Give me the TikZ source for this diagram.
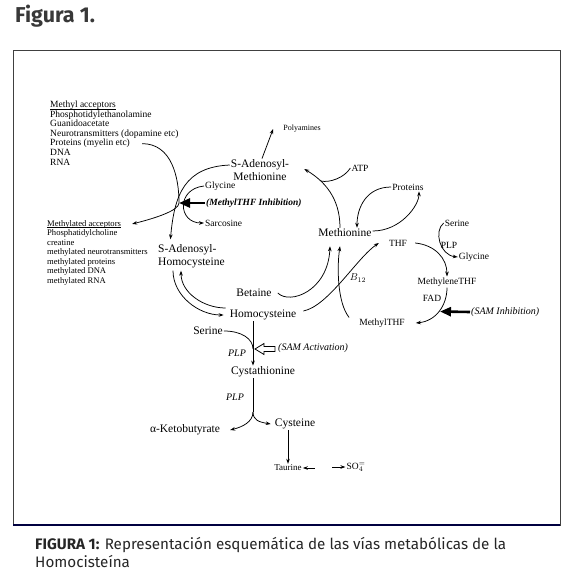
\documentclass[tikz,border=0pt]{standalone}
\usepackage{fontspec}
\setmainfont{Liberation Serif}
\newfontfamily\capfont{Fira Sans}
\usetikzlibrary{arrows.meta,calc}

\tikzset{
  metab/.style={font=\fontsize{11.5}{12.5}\selectfont, inner sep=1pt},
  lbl/.style={font=\fontsize{9.5}{10.5}\selectfont, inner sep=1pt},
  itlbl/.style={font=\fontsize{10}{11}\selectfont\itshape, inner sep=1pt},
  acc/.style={font=\fontsize{9.5}{10}\selectfont, anchor=base west, inner sep=0pt},
  accd/.style={font=\fontsize{8.6}{9.5}\selectfont, anchor=base west, inner sep=0pt},
  conn/.style={line width=0.75pt, ->},
  heavy/.style={line width=2.6pt, -{Triangle[length=11pt,width=9pt]}},
}

\begin{document}
\begin{tikzpicture}[x=1pt, y=-1pt, >={Stealth[length=5pt,width=3.6pt]}]
\useasboundingbox (0,0) rectangle (570,575);
% heading, frame and caption
\node[font=\capfont\bfseries\fontsize{21.5}{23}\selectfont, text=black!78, anchor=west, inner sep=0pt] (fig) at (15,16) {Figura 1.};
\draw[line width=0.9pt, black!75] (13,50) rectangle (560,525);
\draw[line width=1.8pt, blue!25!black] (13,525) -- (560,525);
\node[font=\capfont\fontsize{15.2}{18.5}\selectfont, text=black!85, anchor=north west, align=left, inner sep=0pt] (cap) at (35,537)
  {\textbf{FIGURA 1:} Representación esquemática de las vías metabólicas de la\\Homocisteína};

% acceptor lists
\node[acc] (ma0) at (50,107.5) {Methyl acceptors};
\draw[line width=0.5pt] ([yshift=-1.3pt]ma0.base west) -- ([yshift=-1.3pt]ma0.base east);
\foreach \txt [count=\i] in {Phosphotidylethanolamine, Guanidoacetate, Neurotransmitters (dopamine etc), Proteins (myelin etc), DNA, RNA}
  \node[acc] (ma\i) at (50,107.5+9.6*\i) {\txt};
\node[accd] (md0) at (47,226) {Methylated acceptors};
\draw[line width=0.5pt] ([yshift=-1.2pt]md0.base west) -- ([yshift=-1.2pt]md0.base east);
\foreach \txt [count=\i] in {Phosphatidylcholine, creatine, methylated neurotransmitters, methylated proteins, methylated DNA, methylated RNA}
  \node[accd] (md\i) at (47,226+9.5*\i) {\txt};

% metabolites
\node[metab, align=center] (sam) at (260,170) {S-Adenosyl-\\Methionine};
\node[metab, align=left, anchor=west] (sah) at (157,256) {S-Adenosyl-\\Homocysteine};
\node[metab] (met) at (345,233) {Methionine};
\node[metab] (bet) at (254,293) {Betaine};
\node[metab] (hcy) at (263,315) {Homocysteine};
\node[metab] (ser) at (208,331) {Serine};
\node[metab] (cth) at (263,372) {Cystathionine};
\node[metab] (akb) at (185,430) {α-Ketobutyrate};
\node[metab] (cys) at (295,424) {Cysteine};

% small labels
\node[lbl, font=\fontsize{8}{9}\selectfont] (poly) at (302,129) {Polyamines};
\node[lbl] (atp) at (360,168) {ATP};
\node[lbl, anchor=west] (gly) at (204,186) {Glycine};
\node[font=\fontsize{9.5}{10}\selectfont\bfseries\itshape, anchor=west, inner sep=1pt] (minh) at (205,203) {(MethylTHF Inhibition)};
\node[lbl, anchor=west] (sarc) at (204,223) {Sarcosine};
\node[lbl] (prot) at (408,187) {Proteins};
\node[lbl] (thf) at (398,243) {THF};
\node[lbl] (serb) at (457,223) {Serine};
\node[lbl] (plpa) at (449,245) {PLP};
\node[lbl] (glyb) at (474,257) {Glycine};
\node[lbl] (mthf) at (447,282) {MethyleneTHF};
\node[lbl] (fad) at (432,298) {FAD};
\node[itlbl, anchor=west] (sinh) at (470,312) {(SAM Inhibition)};
\node[lbl] (methf) at (382,323) {MethylTHF};
\node[itlbl] (b12) at (358,278) {$B_{12}$};
\node[itlbl] (plpb) at (237,353) {PLP};
\node[itlbl, anchor=west] (sact) at (277,348) {(SAM Activation)};
\node[itlbl] (plpc) at (235,397) {PLP};
\node[lbl, font=\fontsize{9}{10}\selectfont] (tau) at (288,468) {Taurine};
\node[lbl] (so4) at (356,467) {SO$_4^{=}$};

% junctions
\coordinate (jx) at (179,203);
\coordinate (atpj) at (321,181);
\coordinate (sj) at (440,311.5);
\coordinate (pj) at (253,349);
\coordinate (sp) at (253,412);

% methyl transfer
\draw[conn] ([yshift=5pt]sam.west) .. controls +(-45,2) and +(4,-45) .. ([xshift=-21pt,yshift=4pt]sah.north);
\draw[conn] ([xshift=12pt]ma4.east) .. controls +(30,0) and +(0,-25) .. (jx)
  .. controls +(0,8) and +(20,-5) .. ([xshift=11pt]md0.east);
\draw[conn] (gly.west) .. controls +(-28,3) and +(-26,0) .. (sarc.west);
\draw[heavy] (minh.west) -- (jx);
\draw[conn] ([xshift=2pt]sam.north) -- ([xshift=-9pt]poly.west);

% methionine cycle
\draw[conn] ([xshift=-5pt]met.north) .. controls +(0,-30) and +(20,12) .. ([xshift=14pt,yshift=1pt]sam.east);
\draw[line width=0.75pt] (atp.west) .. controls +(-6,10) and +(8,2) .. (atpj);
\draw[conn] (prot.west) .. controls +(-25,0) and +(0,-20) .. ([xshift=12pt]met.north);
\draw[conn] ([yshift=2pt]met.east) .. controls +(28,0) and +(0,14) .. ([xshift=11pt]prot.south);
\draw[conn] ([xshift=5pt]bet.east) .. controls +(12,12) and +(-2,45) .. ([xshift=-15pt,yshift=-8pt]met.south);
\draw[conn] ([xshift=6pt,yshift=4pt]hcy.east) .. controls +(25,-5) and +(-22,15) .. ([xshift=-9pt]thf.west);
\draw[conn] ([xshift=-9pt]methf.north west) .. controls +(-12,-15) and +(-3,20) .. ([xshift=-5pt,yshift=-8pt]met.south);
\draw[conn] ([xshift=16pt,yshift=-2pt]sah.south west) .. controls +(0,25) and +(-25,0) .. ([xshift=-5pt]hcy.west);
\draw[conn] ([xshift=-3pt,yshift=7pt]hcy.west) .. controls +(-22,0) and +(0,22) .. ([xshift=24pt,yshift=-2pt]sah.south west);

% folate cycle
\draw[conn] ([xshift=7pt]thf.east) .. controls +(20,2) and +(0,-18) .. (mthf.north);
\draw[conn] (serb.west) .. controls +(-10,8) and +(-18,-2) .. (glyb.west);
\draw[conn] (mthf.south) .. controls +(0,18) and +(20,-2) .. ([xshift=10pt]methf.east);
\draw[heavy] (sinh.west) -- (sj);

% transsulfuration
\draw[line width=0.75pt] (ser.east) .. controls +(18,0) and +(0,-10) .. (pj);
\draw[conn] (hcy.south -| pj) -- (cth.north -| pj);
\draw[line width=0.8pt, fill=white] ([xshift=2pt]pj) -- ++(9,-5.5) -- ++(0,3) -- ++(11,0) -- ++(0,5) -- ++(-11,0) -- ++(0,3) -- cycle;
\draw[line width=0.75pt] (cth.south -| pj) -- (sp);
\draw[conn] (sp) .. controls +(0,10) and +(12,-3) .. ([xshift=9pt]akb.east);
\draw[conn] (sp) .. controls +(0,8) and +(-12,-2) .. ([xshift=-3pt]cys.west);
\draw[conn] (cys.south -| tau.north) -- (tau.north);
\draw[conn] ([xshift=12pt]tau.east) -- (tau.east);
\draw[conn] ([xshift=-13pt]so4.west) -- (so4.west);
\end{tikzpicture}
\end{document}
